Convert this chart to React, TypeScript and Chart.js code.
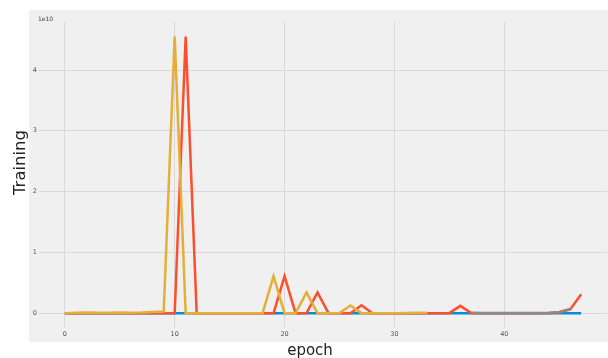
import React, { useEffect, useRef } from "react";
import { Chart, registerables } from "chart.js";

Chart.register(...registerables);

const E = 1e10;
const epochs: number[] = Array.from({ length: 48 }, (_, i) => i);

const blueValues: number[] = [
  0, 0, 0, 0, 0, 0, 0, 0, 0, 0, 0, 0, 0, 0, 0, 0, 0, 0, 0, 0, 0, 0, 0, 0,
  0, 0, 0, 0, 0, 0, 0, 0, 0, 0, 0, 0, 0, 0, 0, 0, 0, 0, 0, 0, 0, 0, 0, 0,
];
const redValues: number[] = [
  0, 0, 0, 0, 0, 0, 0, 0, 0, 0, 0, 4.55, 0, 0, 0, 0, 0, 0, 0, 0, 0.61, 0, 0, 0.34,
  0, 0, 0, 0.13, 0, 0, 0, 0, 0, 0, 0, 0, 0.12, 0, 0, 0, 0, 0, 0, 0, 0, 0.01, 0.06, 0.31,
];
const yellowValues: number[] = [
  0, 0.005, 0.01, 0.005, 0.008, 0.012, 0.005, 0.01, 0.02, 0.025, 4.55, 0, 0, 0, 0, 0, 0,
  0, 0, 0.61, 0, 0, 0.34, 0, 0, 0, 0.125, 0, 0, 0, 0, 0.004, 0.005, 0.006,
];
const grayStart = 37;
const grayValues: number[] = [0.005, 0.003, 0.003, 0.003, 0.003, 0.003, 0.004, 0.006, 0.02, 0.07];

const xTicks: number[] = [0, 10, 20, 30, 40];
const yTicks: number[] = [0, 1, 2, 3, 4];

const toPoints = (vals: number[], start = 0) =>
  vals.map((v, i) => ({ x: epochs[start + i], y: v * E }));

export default function App() {
  const ref = useRef<HTMLCanvasElement | null>(null);

  useEffect(() => {
    if (!ref.current) return;
    const bgPlugin = {
      id: "bg",
      beforeDraw(chart: any) {
        const { ctx, chartArea } = chart;
        ctx.save();
        ctx.fillStyle = "#f0f0f0";
        ctx.fillRect(chartArea.left - 10, chartArea.top - 12, chart.width - (chartArea.left - 10), chartArea.bottom + 15 - (chartArea.top - 12));
        ctx.restore();
      },
      afterDraw(chart: any) {
        const { ctx, chartArea } = chart;
        ctx.save();
        ctx.fillStyle = "#444";
        ctx.font = "6px 'DejaVu Sans'";
        ctx.textAlign = "left";
        ctx.textBaseline = "middle";
        ctx.fillText("1e10", chartArea.left - 1, chartArea.top - 3);
        ctx.fillStyle = "#222";
        ctx.font = "15px 'DejaVu Sans'";
        ctx.textAlign = "center";
        ctx.textBaseline = "alphabetic";
        ctx.fillText("epoch", (chartArea.left + chartArea.right) / 2 - 13, chart.height - 3);
        ctx.font = "16.5px 'DejaVu Sans'";
        ctx.translate(25, (chartArea.top + chartArea.bottom) / 2 - 12);
        ctx.rotate(-Math.PI / 2);
        ctx.fillText("Training", 0, 0);
        ctx.restore();
      },
    };

    const line = (label: string, data: any[], color: string, order: number) => ({
      label,
      data,
      borderColor: color,
      backgroundColor: color,
      borderWidth: 2.5,
      pointRadius: 0,
      tension: 0,
      order,
    });

    const chart = new Chart(ref.current, {
      type: "line",
      data: {
        datasets: [
          line("run1", toPoints(blueValues), "#008fd5", 3),
          line("run2", toPoints(redValues), "#fc4f30", 2),
          line("run3", toPoints(yellowValues), "#e5ae38", 1),
          line("run4", toPoints(grayValues, grayStart), "#8b8b8b", 0),
        ],
      },
      plugins: [bgPlugin],
      options: {
        animation: false,
        responsive: false,
        layout: { padding: { left: 0, top: 22, right: 1, bottom: 0 } },
        plugins: { legend: { display: false }, tooltip: { enabled: false } },
        scales: {
          x: {
            type: "linear",
            min: -2.35,
            max: 49.35,
            afterBuildTicks: (s: any) => {
              s.ticks = xTicks.map((v) => ({ value: v }));
            },
            afterFit: (s: any) => {
              s.height = 31;
            },
            grid: { color: "#d9d9d9", lineWidth: 1, drawTicks: false },
            border: { display: false },
            ticks: {
              color: "#555",
              font: { size: 6.5, family: "DejaVu Sans" },
              padding: 3,
              maxRotation: 0,
              callback: (v: any) => String(v),
            },
          },
          y: {
            type: "linear",
            min: -0.228 * E,
            max: 4.79 * E,
            afterBuildTicks: (s: any) => {
              s.ticks = yTicks.map((v) => ({ value: v * E }));
            },
            afterFit: (s: any) => {
              s.width = 39;
            },
            grid: { color: "#d9d9d9", lineWidth: 1, drawTicks: false },
            border: { display: false },
            ticks: {
              color: "#555",
              font: { size: 6.5, family: "DejaVu Sans" },
              padding: 2,
              callback: (v: any) => String(Math.round(Number(v) / E)),
            },
          },
        },
      },
    });
    return () => chart.destroy();
  }, []);

  return (
    <div style={{ position: "fixed", left: 0, top: 0, width: 608, height: 358, background: "#fff" }}>
      <canvas ref={ref} width={608} height={358} style={{ width: 608, height: 358, display: "block" }} />
    </div>
  );
}
